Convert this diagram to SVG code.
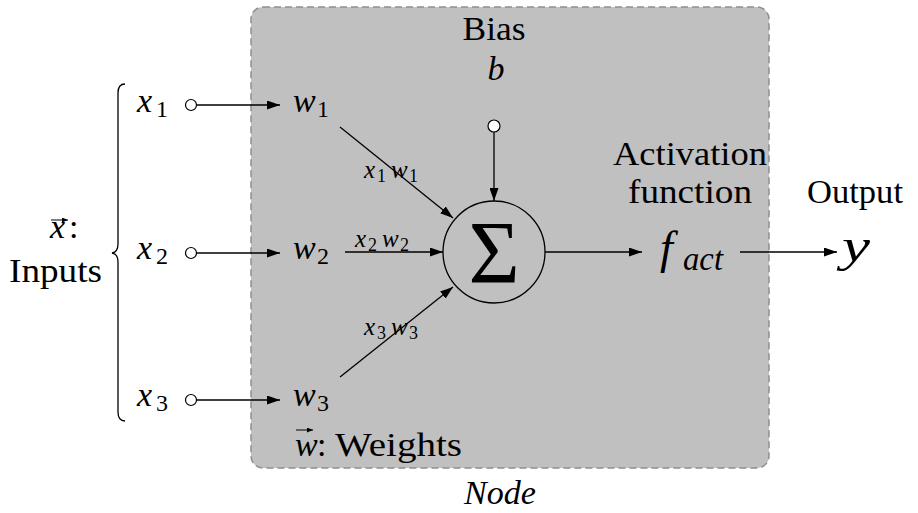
<svg xmlns="http://www.w3.org/2000/svg" width="918" height="513" viewBox="0 0 918 513" font-family="Liberation Serif">
<defs>
<marker id="ah" markerWidth="13" markerHeight="9" refX="13" refY="4.5" orient="auto" markerUnits="userSpaceOnUse"><path d="M0,0 L13,4.5 L0,9 z" fill="#000"/></marker>
<marker id="sa" markerWidth="6" markerHeight="5" refX="6" refY="2.5" orient="auto" markerUnits="userSpaceOnUse"><path d="M0,0 L6,2.5 L0,5 z" fill="#000"/></marker>
</defs>
<g id="node-box" font-family="Liberation Serif" font-size="34">
<rect x="251" y="7" width="518" height="461" rx="12" fill="#c0c0c0" stroke="#8f8f8f" stroke-width="1.5" stroke-dasharray="7 4"/>
<text x="295" y="456" font-family="Liberation Serif" font-size="34" font-style="italic">w</text>
<path d="M296 430 H313" stroke="#000" stroke-width="1" marker-end="url(#sa)"/>
<text x="317" y="456" font-family="Liberation Serif" font-size="34">:</text>
<text x="335" y="456" font-family="Liberation Serif" font-size="34" textLength="127" lengthAdjust="spacingAndGlyphs">Weights</text>
<text x="500" y="504" font-family="Liberation Serif" font-size="34" font-style="italic" text-anchor="middle" textLength="72" lengthAdjust="spacingAndGlyphs">Node</text>
</g>
<g id="inputs-label" font-family="Liberation Serif" font-size="34">
<path d="M125 84 Q118 84 118 93 L118 244 Q118 252 112 253 Q118 254 118 262 L118 412 Q118 421 125 421" stroke="#000" stroke-width="1.3" fill="none"/>
<text x="50" y="238" font-family="Liberation Serif" font-size="34" font-style="italic">x</text>
<path d="M51 220 H68" stroke="#000" stroke-width="1" marker-end="url(#sa)"/>
<text x="69" y="238" font-family="Liberation Serif" font-size="34">:</text>
<text x="9" y="282" font-family="Liberation Serif" font-size="34" textLength="93" lengthAdjust="spacingAndGlyphs">Inputs</text>
</g>
<g id="x1" font-family="Liberation Serif"><text x="137" y="112" font-family="Liberation Serif" font-size="34" font-style="italic">x</text><text x="156" y="117" font-family="Liberation Serif" font-size="24">1</text><circle cx="191" cy="105" r="5.5" fill="#fff" stroke="#000" stroke-width="1.2"/></g>
<g id="x2" font-family="Liberation Serif"><text x="137" y="259" font-family="Liberation Serif" font-size="34" font-style="italic">x</text><text x="156" y="264" font-family="Liberation Serif" font-size="24">2</text><circle cx="191" cy="253" r="5.5" fill="#fff" stroke="#000" stroke-width="1.2"/></g>
<g id="x3" font-family="Liberation Serif"><text x="137" y="406" font-family="Liberation Serif" font-size="34" font-style="italic">x</text><text x="156" y="411" font-family="Liberation Serif" font-size="24">3</text><circle cx="191" cy="400" r="5.5" fill="#fff" stroke="#000" stroke-width="1.2"/></g>
<g id="w1" font-family="Liberation Serif"><text x="293" y="112" font-family="Liberation Serif" font-size="34" font-style="italic">w</text><text x="317" y="117" font-family="Liberation Serif" font-size="24">1</text></g>
<g id="w2" font-family="Liberation Serif"><text x="293" y="259" font-family="Liberation Serif" font-size="34" font-style="italic">w</text><text x="317" y="264" font-family="Liberation Serif" font-size="24">2</text></g>
<g id="w3" font-family="Liberation Serif"><text x="293" y="406" font-family="Liberation Serif" font-size="34" font-style="italic">w</text><text x="317" y="411" font-family="Liberation Serif" font-size="24">3</text></g>
<g id="bias" font-family="Liberation Serif">
<text x="494" y="40" font-family="Liberation Serif" font-size="34" text-anchor="middle" textLength="63" lengthAdjust="spacingAndGlyphs">Bias</text>
<text x="496" y="80" font-family="Liberation Serif" font-size="34" font-style="italic" text-anchor="middle">b</text>
<circle cx="494" cy="126" r="6" fill="#fff" stroke="#000" stroke-width="1.2"/>
</g>
<g id="sum" font-family="Liberation Serif">
<circle cx="494" cy="252" r="51" fill="none" stroke="#000" stroke-width="1.3"/>
<text x="494" y="282" text-anchor="middle" font-family="Liberation Serif" font-size="88">&#931;</text>
</g>
<g id="activation" font-family="Liberation Serif">
<text x="690" y="165" font-family="Liberation Serif" font-size="34" text-anchor="middle" textLength="154" lengthAdjust="spacingAndGlyphs">Activation</text>
<text x="690" y="203" font-family="Liberation Serif" font-size="34" text-anchor="middle" textLength="124" lengthAdjust="spacingAndGlyphs">function</text>
<text x="660" y="263" font-family="Liberation Serif" font-size="46" font-style="italic">f</text>
<text x="683" y="270" font-family="Liberation Serif" font-size="34" font-style="italic" textLength="40" lengthAdjust="spacingAndGlyphs">act</text>
</g>
<g id="output" font-family="Liberation Serif">
<text x="855" y="203" font-family="Liberation Serif" font-size="34" text-anchor="middle" textLength="96" lengthAdjust="spacingAndGlyphs">Output</text>
<text x="842" y="261" font-family="Liberation Serif" font-size="46" font-style="italic" textLength="28" lengthAdjust="spacingAndGlyphs">y</text>
</g>
<g id="connectors" stroke="#000" stroke-width="1.3" fill="none">
<line x1="197" y1="105" x2="280" y2="105" marker-end="url(#ah)"/>
<line x1="197" y1="253" x2="280" y2="253" marker-end="url(#ah)"/>
<line x1="197" y1="400" x2="280" y2="400" marker-end="url(#ah)"/>
<line x1="340" y1="127" x2="453" y2="218" marker-end="url(#ah)"/>
<line x1="345" y1="252" x2="443" y2="252" marker-end="url(#ah)"/>
<line x1="340" y1="377" x2="453" y2="287" marker-end="url(#ah)"/>
<line x1="494" y1="132" x2="494" y2="201" marker-end="url(#ah)"/>
<line x1="545" y1="252" x2="642" y2="252" marker-end="url(#ah)"/>
<line x1="740" y1="252" x2="837" y2="252" marker-end="url(#ah)"/>
</g>
<g id="edge-labels" font-family="Liberation Serif">
<text x="364" y="178" font-family="Liberation Serif" font-size="25" font-style="italic">x</text><text x="377" y="182" font-family="Liberation Serif" font-size="18">1</text><text x="391" y="178" font-family="Liberation Serif" font-size="25" font-style="italic">w</text><text x="409" y="182" font-family="Liberation Serif" font-size="18">1</text>
<text x="355" y="247" font-family="Liberation Serif" font-size="25" font-style="italic">x</text><text x="368" y="251" font-family="Liberation Serif" font-size="18">2</text><text x="382" y="247" font-family="Liberation Serif" font-size="25" font-style="italic">w</text><text x="400" y="251" font-family="Liberation Serif" font-size="18">2</text>
<text x="364" y="335" font-family="Liberation Serif" font-size="25" font-style="italic">x</text><text x="377" y="339" font-family="Liberation Serif" font-size="18">3</text><text x="391" y="335" font-family="Liberation Serif" font-size="25" font-style="italic">w</text><text x="409" y="339" font-family="Liberation Serif" font-size="18">3</text>
</g>
</svg>
